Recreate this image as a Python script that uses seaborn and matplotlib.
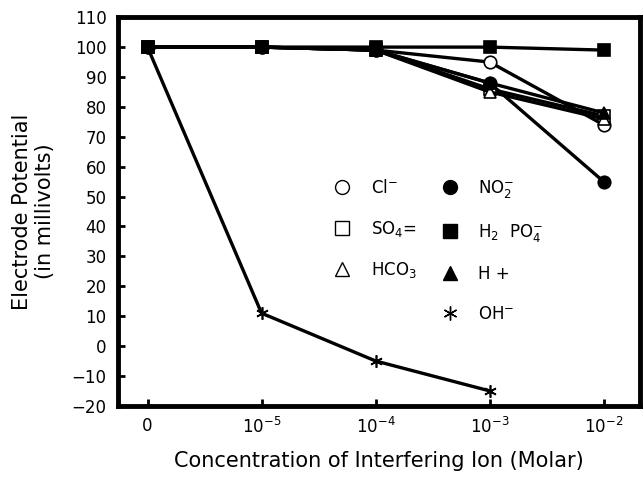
import pandas as pd
import matplotlib
matplotlib.use("Agg")
import matplotlib.pyplot as plt
from matplotlib.lines import Line2D
import seaborn as sns

# concentration positions (categorical: 0, 1e-5 ... 1e-2)
x_labels = ["0", r"10$^{-5}$", r"10$^{-4}$", r"10$^{-3}$", r"10$^{-2}$"]
x_pos = [0, 1, 2, 3, 4]

cl = [100, 100, 99, 95, 74]
so4 = [100, 100, 99, 86, 77]
hco3 = [100, 100, 99, 85, 76]
no2 = [100, 100, 99, 88, 55]
h2po4 = [100, 100, 100, 100, 99]
h_plus = [100, 100, 99, 88, 78]
oh = [100, 11, -5, -15]

series = [
    ("Cl$^{-}$", cl, "o", "white"),
    ("SO$_4$=", so4, "s", "white"),
    ("HCO$_3$", hco3, "^", "white"),
    ("NO$_2^{-}$", no2, "o", "black"),
    ("H$_2$  PO$_4^{-}$", h2po4, "s", "black"),
    ("H +", h_plus, "^", "black"),
    ("OH$^{-}$", oh, (6, 2, 0), "black"),
]

sns.set_theme(style="white")
plt.rcParams['font.family'] = ['DejaVu Sans']

fig = plt.figure(figsize=(6.44, 4.78), dpi=100)
ax = fig.add_axes([0.183, 0.151, 0.811, 0.813])

handles = {}
for name, vals, mk, fc in series:
    df = pd.DataFrame({"x": x_pos[:len(vals)], "y": vals})
    sns.lineplot(data=df, x="x", y="y", ax=ax, color="black", linewidth=2.4,
                 marker=mk, markersize=9, markerfacecolor=fc,
                 markeredgecolor="black", markeredgewidth=1.2, legend=False)
    handles[name] = Line2D([], [], linestyle="none", marker=mk, markersize=10,
                           markerfacecolor=fc, markeredgecolor="black",
                           markeredgewidth=1)

blank = Line2D([], [], linestyle="none")
order = ["Cl$^{-}$", "SO$_4$=", "HCO$_3$", None,
         "NO$_2^{-}$", "H$_2$  PO$_4^{-}$", "H +", "OH$^{-}$"]
h_list = [handles[k] if k else blank for k in order]
l_list = [k if k else "" for k in order]
ax.legend(h_list, l_list, ncol=2, loc="upper left",
          bbox_to_anchor=(0.385, 0.625), frameon=False, fontsize=12,
          labelspacing=1.3, columnspacing=1.5, handletextpad=1.2,
          handlelength=1.0, labelcolor="black")

ax.set_xlim(-0.26, 4.32)
ax.set_ylim(-20, 110)
ax.set_xticks(x_pos)
ax.set_xticklabels(x_labels)
ax.set_yticks(range(-20, 111, 10))
ax.tick_params(axis="both", direction="in", length=5, width=2, labelsize=12,
               left=True, bottom=True, pad=8, colors="black")
for sp in ax.spines.values():
    sp.set_linewidth(3.5)
    sp.set_color("black")

ax.set_xlabel("Concentration of Interfering Ion (Molar)", fontsize=15,
              labelpad=10, color="black")
ax.set_ylabel("Electrode Potential\n(in millivolts)", fontsize=15,
              labelpad=12, color="black")

fig.savefig("out.png", dpi=100)
